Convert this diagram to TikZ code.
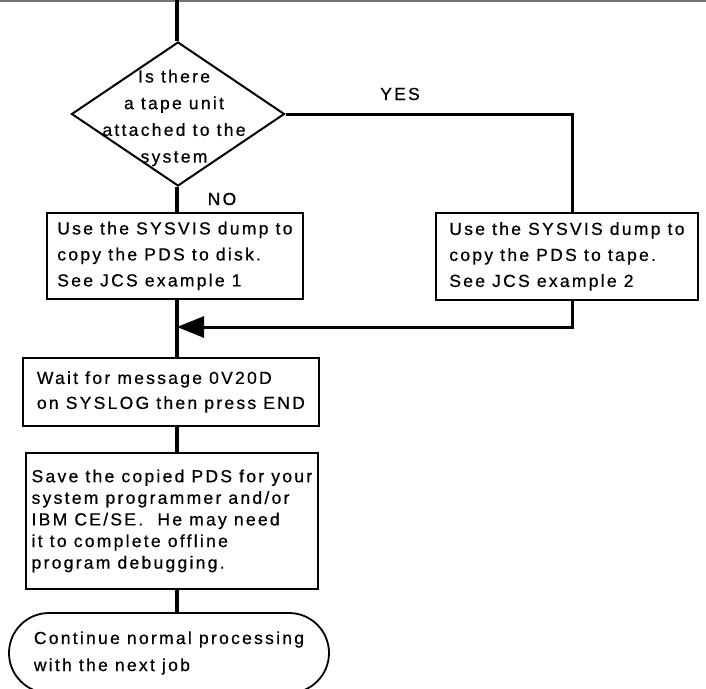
\documentclass[tikz,border=0pt]{standalone}
\usepackage{fontspec}
\setmainfont{Liberation Sans}[LetterSpace=13, FakeBold=0.6]
\usetikzlibrary{arrows.meta,shapes.geometric,shapes.misc}

\tikzset{
  flowline/.style={line width=3.6pt},
  branchline/.style={line width=3pt},
  procbox/.style={draw, line width=1.8pt, align=left, inner sep=0pt, anchor=north west},
  decision/.style={draw, diamond, line width=2pt, inner sep=0pt},
  terminal/.style={draw, rounded rectangle, line width=1.8pt, align=left, inner sep=0pt},
  plain/.style={inner sep=0pt},
}

\begin{document}
\begin{tikzpicture}[x=1pt, y=-1pt, font=\fontsize{17.5}{26}\selectfont]
  \useasboundingbox (0,0) rectangle (706,688);

  % rule along the upper edge
  \draw[line width=1.2pt, black!55] (0,1) -- (706,1);

  % decision
  \node[decision, minimum width=213pt, minimum height=144pt] (tape) at (178,114) {};
  \node[plain, align=center, font=\fontsize{17.5}{26.7}\selectfont] (tapeq) at (174,118)
    {Is there\\a tape unit\\attached to the\\system};

  % process boxes
  \node[procbox, minimum width=256pt, minimum height=86pt] (disk) at (46,212)
    {Use the SYSVIS dump to\\copy the PDS to disk.\\See JCS example 1};
  \node[procbox, minimum width=262pt, minimum height=87pt] (tapebox) at (435,212)
    {Use the SYSVIS dump to\\copy the PDS to tape.\\See JCS example 2};
  \node[procbox, minimum width=296pt, minimum height=68pt, font=\fontsize{17.5}{25}\selectfont] (wait) at (22,357)
    {Wait for message 0V20D\\on SYSLOG then press END};
  \node[procbox, minimum width=292pt, minimum height=136pt, font=\fontsize{17.5}{21.6}\selectfont] (save) at (25,452)
    {Save the copied PDS for your\\system programmer and/or\\IBM CE/SE.\ \ He may need\\it to complete offline\\program debugging.};

  % terminal
  \node[terminal, minimum width=320pt, minimum height=80pt, font=\fontsize{17.5}{27}\selectfont] (cont) at (169,653)
    {Continue normal processing\\with the next job};

  % branch labels
  \node[plain] (yes) at (400,94) {YES};
  \node[plain] (no) at (222,199) {NO};

  % connector points
  \coordinate (entry) at (177,0);
  \coordinate (axis) at (177,0);
  \coordinate (ycol) at (572,0);
  \coordinate (merge) at (177,327);

  % main flow
  \draw[flowline] (entry) -- (axis |- tape.north);
  \draw[flowline] (axis |- tape.south) -- (axis |- disk.north);
  \draw[flowline] (axis |- disk.south) -- (axis |- wait.north);
  \draw[flowline] (axis |- wait.south) -- (axis |- save.north);
  \draw[flowline] (axis |- save.south) -- (axis |- cont.north);

  % YES branch and return
  \draw[branchline] (tape.east) -| (ycol |- tapebox.north);
  \draw[branchline, -{Triangle[length=27pt, width=21pt]}] (ycol |- tapebox.south) |- (merge);
\end{tikzpicture}
\end{document}
